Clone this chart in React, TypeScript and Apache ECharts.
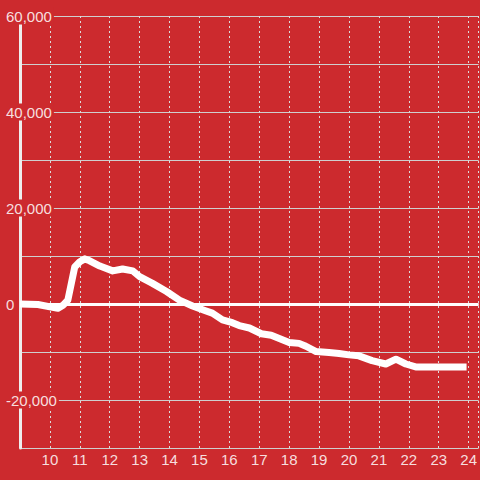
import React, { useEffect, useRef } from "react";
import * as echarts from "echarts";

// hours (decimal) and values
const hours = [9.0, 9.6, 10.27, 10.45, 10.6, 10.83, 11.0, 11.17, 11.33, 11.67, 12.1, 12.43, 12.77, 13.0, 13.43, 13.9, 14.33, 14.77, 15.2, 15.43, 15.77, 16.1, 16.33, 16.67, 17.07, 17.4, 18.0, 18.33, 18.56, 18.9, 19.33, 19.67, 20.0, 20.33, 20.77, 21.23, 21.57, 21.9, 22.23, 23.0, 23.93];
const values = [0, -100, -900, -200, 800, 7700, 8800, 9400, 9000, 7900, 6900, 7300, 6900, 5700, 4300, 2600, 800, -400, -1400, -1900, -3300, -3900, -4500, -5000, -6200, -6500, -8000, -8200, -8800, -9900, -10100, -10300, -10600, -10800, -11800, -12500, -11500, -12500, -13100, -13100, -13100];
const yShownTicks = [60000, 40000, 20000, 0, -20000];

const BG = "#cc2a2e";
const TEXT = "rgba(255,255,255,0.86)";
const FONT = "'Liberation Sans', Arial, sans-serif";

export default function App() {
  const ref = useRef<HTMLDivElement>(null);
  useEffect(() => {
    document.body.style.margin = "0";
    const chart = echarts.init(ref.current!, null, { renderer: "svg" });
    chart.setOption({
      animation: false,
      backgroundColor: BG,
      grid: { left: 20, right: 0, top: 16, bottom: 32, containLabel: false },
      xAxis: {
        type: "value",
        min: 9,
        max: 9 + 460 / 30,
        interval: 1,
        axisLine: { show: false },
        axisTick: { show: false },
        axisLabel: {
          color: TEXT,
          fontSize: 15,
          fontFamily: FONT,
          margin: 4,
          showMinLabel: false,
          showMaxLabel: false,
          formatter: (v: number) => (Number.isInteger(v) && v > 9 ? String(v) : ""),
        },
        splitLine: { show: true, lineStyle: { color: "#dcdcdc", width: 1, type: [2, 3] } },
      },
      yAxis: {
        type: "value",
        min: -30000,
        max: 60000,
        interval: 10000,
        axisLine: { show: true, lineStyle: { color: "#eeeeee", width: 3 } },
        axisTick: { show: false },
        axisLabel: {
          color: TEXT,
          fontSize: 15,
          fontFamily: FONT,
          align: "left",
          margin: 16,
          backgroundColor: BG,
          padding: [1, 2],
          formatter: (v: number) =>
            yShownTicks.includes(v) ? v.toLocaleString("en-US") : "",
        },
        splitLine: { show: true, lineStyle: { color: "#cfcfcf", width: 1 } },
      },
      series: [
        {
          type: "line",
          data: hours.map((h, i) => [h, values[i]]),
          showSymbol: false,
          symbol: "none",
          lineStyle: { color: "#ffffff", width: 7, join: "round", cap: "butt" },
          z: 3,
          markLine: {
            silent: true,
            symbol: "none",
            label: { show: false },
            lineStyle: { color: "#ffffff", width: 3, type: "solid" },
            data: [{ yAxis: 0 }],
            z: 2,
          },
        },
      ],
    });
    return () => chart.dispose();
  }, []);
  return (
    <div
      ref={ref}
      style={{ position: "fixed", left: 0, top: 0, width: 480, height: 480 }}
    />
  );
}
